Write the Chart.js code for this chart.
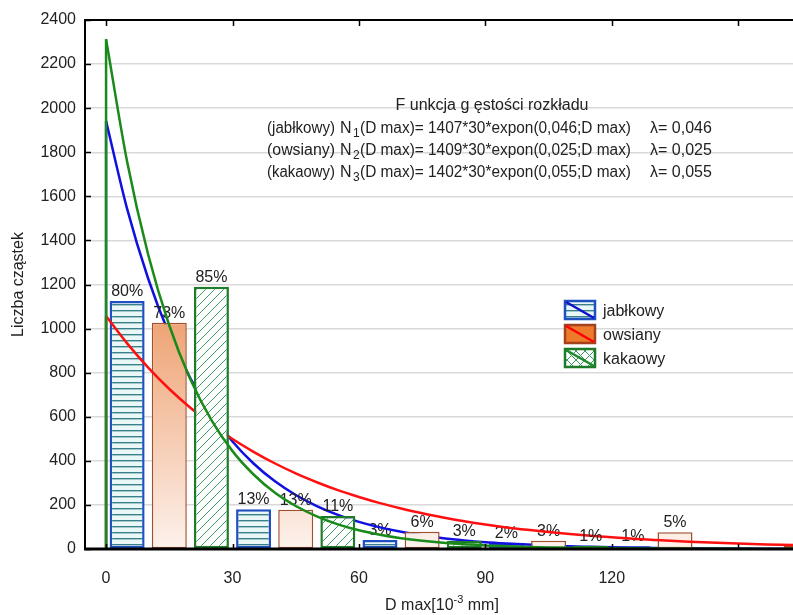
<!DOCTYPE html>
<html lang="pl">
<head>
<meta charset="utf-8">
<title>Liczba cząstek</title>
<script src="https://cdn.jsdelivr.net/npm/chart.js@4.4.1/dist/chart.umd.min.js"></script>
<style>
  html, body { margin: 0; padding: 0; background: #fff; }
  #wrap { width: 793px; height: 615px; }
</style>
</head>
<body>
<div id="wrap"><canvas id="histChart" width="793" height="615"></canvas></div>
<script>
const FONT = '"Liberation Sans", Arial, sans-serif';

// przedziały D max (początek klasy, szerokość 30)
const binStarts = [0, 30, 60, 90, 120, 150];

// liczebności w klasach
const countsJablkowy = [1125, 180, 41, 27, 12, 4];
const countsOwsiany  = [1027, 178, 78, 37, 76, 14];
const countsKakaowy  = [1190, 150, 36, 15, 3, 0];

const seriesNames = ['jabłkowy', 'owsiany', 'kakaowy'];
const totals = [1407, 1409, 1402];
const lambdas = ['0,046', '0,025', '0,055'];

// krzywe gęstości (wartości co 5 jednostek D max)
const curveX = [0, 5, 10, 15, 20, 25, 30, 35, 40, 45, 50, 55, 60, 65, 70, 75, 80,
  85, 90, 95, 100, 105, 110, 115, 120, 125, 130, 135, 140, 145, 150, 155, 160, 165];
const curveJablkowy = [1942, 1543, 1226, 974, 774, 615, 488, 388, 308, 245, 195, 155,
  123, 98, 78, 62, 49, 39, 31, 25, 20, 16, 12, 10, 8, 6, 5, 4, 3, 2.5, 2, 1.6, 1.2, 1];
const curveOwsiany = [1057, 933, 823, 726, 641, 566, 499, 441, 389, 343, 303, 267,
  236, 208, 184, 162, 143, 126, 111, 98, 87, 77, 68, 60, 53, 46, 41, 36, 32, 28, 25, 22, 19, 17];
const curveKakaowy = [2313, 1757, 1335, 1014, 770, 585, 444, 338, 256, 195, 148, 112,
  85, 65, 49, 37, 28, 22, 16, 12.5, 9.5, 7.2, 5.5, 4.1, 3.2, 2.4, 1.8, 1.4, 1, 0.8, 0.6, 0.5, 0.4, 0.3];

const xTicks = [0, 30, 60, 90, 120, 150];
const xTickLabels = [0, 30, 60, 90, 120];

const canvas = document.getElementById('histChart');
const ctx = canvas.getContext('2d');

function stripePattern() {
  const t = document.createElement('canvas');
  t.width = 8; t.height = 6;
  const g = t.getContext('2d');
  g.fillStyle = '#e9f8f6';
  g.fillRect(0, 0, 8, 6);
  g.fillStyle = '#3a7f8c';
  g.fillRect(0, 4, 8, 1.4);
  return ctx.createPattern(t, 'repeat');
}

function hatchPattern(cross) {
  const t = document.createElement('canvas');
  t.width = 9; t.height = 9;
  const g = t.getContext('2d');
  g.fillStyle = '#ffffff';
  g.fillRect(0, 0, 9, 9);
  g.strokeStyle = '#3c9c68';
  g.lineWidth = 1;
  g.beginPath();
  g.moveTo(-1, 10); g.lineTo(10, -1);
  if (cross) { g.moveTo(-1, -1); g.lineTo(10, 10); }
  g.stroke();
  return ctx.createPattern(t, 'repeat');
}

const blueFill = stripePattern();
const greenFill = hatchPattern(false);

function peachFill(context) {
  const chart = context.chart;
  if (!chart.chartArea || !chart.scales.y) return '#f9dccb';
  const y = chart.scales.y;
  const grad = chart.ctx.createLinearGradient(0, y.getPixelForValue(0), 0, y.getPixelForValue(1050));
  grad.addColorStop(0, '#fdf2ec');
  grad.addColorStop(1, '#eea272');
  return grad;
}

function barSet(idx, counts, fill, border, width, order) {
  return {
    type: 'bar',
    label: seriesNames[idx],
    data: counts.map((v, i) => ({ x: binStarts[i] + 5 + 10 * idx, y: v })),
    pctTotal: totals[idx],
    grouped: false,
    barPercentage: 0.83,
    categoryPercentage: 1,
    backgroundColor: fill,
    borderColor: border,
    borderWidth: width,
    borderSkipped: false,
    order: order
  };
}

function curveSet(values, color, order) {
  return {
    type: 'line',
    data: curveX.map((x, i) => ({ x: x, y: values[i] })),
    borderColor: color,
    borderWidth: 2.5,
    pointRadius: 0,
    cubicInterpolationMode: 'monotone',
    fill: false,
    order: order
  };
}

function riseSet(values, color, order) {
  return {
    type: 'line',
    data: [{ x: 0, y: 0 }, { x: 0, y: values[0] }],
    borderColor: color,
    borderWidth: 2.5,
    pointRadius: 0,
    fill: false,
    order: order
  };
}

const decor = {
  id: 'decor',
  afterDatasetDraw(chart, args) {
    const ds = chart.data.datasets[args.index];
    if (!ds.pctTotal) return;
    const c = chart.ctx;
    const xs = chart.scales.x;
    c.save();
    c.font = '16px ' + FONT;
    c.fillStyle = '#222';
    c.textAlign = 'center';
    c.textBaseline = 'alphabetic';
    args.meta.data.forEach((bar, i) => {
      const p = ds.data[i];
      const pct = Math.round(p.y / ds.pctTotal * 100);
      if (pct < 1 || p.x > xs.max) return;
      c.fillText(pct + '%', bar.x, bar.y - 5);
    });
    c.restore();
  },
  afterDraw(chart) {
    const c = chart.ctx;
    const a = chart.chartArea;
    const xs = chart.scales.x, ys = chart.scales.y;
    c.save();

    // ramka i znaczniki osi
    c.strokeStyle = '#000';
    c.lineWidth = 2;
    c.beginPath();
    c.moveTo(a.left, a.bottom); c.lineTo(a.left, a.top); c.lineTo(a.right, a.top);
    c.stroke();
    c.lineWidth = 3;
    c.beginPath();
    c.moveTo(a.left - 1, a.bottom); c.lineTo(a.right, a.bottom);
    c.stroke();
    c.lineWidth = 1.5;
    c.beginPath();
    xTicks.forEach(v => {
      const px = Math.round(xs.getPixelForValue(v)) + 0.5;
      c.moveTo(px, a.top); c.lineTo(px, a.top + 6);
      c.moveTo(px, a.bottom); c.lineTo(px, a.bottom - 5);
    });
    ys.ticks.forEach(t => {
      const py = Math.round(ys.getPixelForValue(t.value)) + 0.5;
      c.moveTo(a.left, py); c.lineTo(a.left + 6, py);
    });
    c.stroke();

    // opis funkcji gęstości
    c.fillStyle = '#222';
    c.font = '16px ' + FONT;
    c.textAlign = 'center';
    c.fillText('F unkcja g ęstości rozkładu', 492, 110, 200);
    c.textAlign = 'left';
    const rows = [133, 155, 177];
    seriesNames.forEach((name, i) => {
      const y = rows[i];
      c.font = '16px ' + FONT;
      c.fillText('(' + name + ')', 267, y, 68);
      c.fillText('N', 340, y);
      c.font = '12px ' + FONT;
      c.fillText(String(i + 1), 353, y + 4);
      c.font = '16px ' + FONT;
      c.fillText('(D max)= ' + totals[i] + '*30*expon(' + lambdas[i] + ';D max)', 360, y, 271);
      c.fillText('λ= ' + lambdas[i], 650, y, 66);
    });

    // legenda
    const legendFills = [blueFill, '#ee7a2c', hatchPattern(true)];
    const legendBorders = ['#1f4fc0', '#a5421e', '#1e7b2a'];
    const legendLines = ['#1010d0', '#ff0000', '#1e8a2a'];
    const boxY = [301, 325, 349];
    seriesNames.forEach((name, i) => {
      const x = 565, y = boxY[i], w = 30, h = 18;
      c.fillStyle = legendFills[i];
      c.fillRect(x, y, w, h);
      c.strokeStyle = legendBorders[i];
      c.lineWidth = 2.5;
      c.strokeRect(x, y, w, h);
      c.strokeStyle = legendLines[i];
      c.lineWidth = 2.5;
      c.beginPath();
      c.moveTo(x + 1, y + 1); c.lineTo(x + w - 1, y + h - 1);
      c.stroke();
      c.fillStyle = '#222';
      c.font = '16px ' + FONT;
      c.fillText(name, 603, y + 15);
    });

    // tytuł osi X z wykładnikiem
    const base = 'D max[10', sup = '-3', tail = ' mm]';
    c.font = '16px ' + FONT;
    const w1 = c.measureText(base).width, w3 = c.measureText(tail).width;
    c.font = '11px ' + FONT;
    const w2 = c.measureText(sup).width;
    let tx = 442 - (w1 + w2 + w3) / 2;
    c.font = '16px ' + FONT;
    c.fillText(base, tx, 610);
    c.font = '11px ' + FONT;
    c.fillText(sup, tx + w1, 603);
    c.font = '16px ' + FONT;
    c.fillText(tail, tx + w1 + w2, 610);

    c.restore();
  }
};

new Chart(ctx, {
  type: 'bar',
  data: {
    datasets: [
      barSet(0, countsJablkowy, blueFill, '#1f4fc0', 2.5, 7),
      curveSet(curveJablkowy, '#1010e0', 6),
      riseSet(curveJablkowy, '#1a4aa0', 6),
      barSet(1, countsOwsiany, peachFill, '#a0502e', 1.5, 5),
      curveSet(curveOwsiany, '#ff1010', 4),
      riseSet(curveOwsiany, '#b0401a', 4),
      barSet(2, countsKakaowy, greenFill, '#1e7b2a', 2.5, 3),
      curveSet(curveKakaowy, '#1a8a1a', 2),
      riseSet(curveKakaowy, '#1a8a1a', 1)
    ]
  },
  options: {
    responsive: false,
    animation: false,
    layout: { padding: { top: 20, right: 0, left: 0, bottom: 0 } },
    plugins: {
      legend: { display: false },
      tooltip: { enabled: false }
    },
    scales: {
      x: {
        type: 'linear',
        offset: false,
        min: -5,
        max: 163,
        grid: { display: false, offset: false },
        border: { display: false },
        afterBuildTicks: scale => { scale.ticks = xTicks.map(v => ({ value: v })); },
        afterFit: scale => { scale.height = 66; },
        ticks: {
          autoSkip: false,
          maxRotation: 0,
          padding: 12,
          color: '#222',
          font: { family: FONT, size: 16 },
          callback: v => xTickLabels.includes(v) ? String(v) : ''
        }
      },
      y: {
        min: 0,
        max: 2400,
        afterFit: scale => { scale.width = 85; },
        grid: { color: '#d9d9d9', lineWidth: 1.5, drawTicks: false },
        border: { display: false },
        ticks: {
          stepSize: 200,
          padding: 9,
          color: '#222',
          font: { family: FONT, size: 16 },
          callback: v => String(v)
        },
        title: {
          display: true,
          text: 'Liczba cząstek',
          color: '#222',
          font: { family: FONT, size: 16 },
          padding: { top: 9, bottom: 4 }
        }
      }
    }
  },
  plugins: [decor]
});
</script>
</body>
</html>
